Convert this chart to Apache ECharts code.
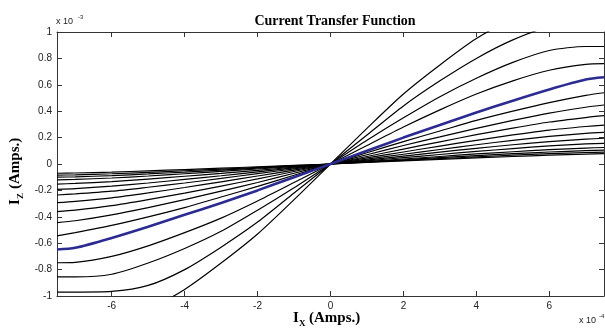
<!DOCTYPE html>
<html><head><meta charset="utf-8">
<script src="https://cdn.jsdelivr.net/npm/echarts@6/dist/echarts.min.js"></script>
<style>html,body{margin:0;padding:0;background:#fff}#c{width:605px;height:329px}</style>
</head><body><div id="c"></div>
<script>
const xs = [-7.5,-7,-6,-5,-4,-3,-2,-1,0,1,2,3,4,5,6,7,7.5];
const c1 = [-1.26,-1.25,-1.2,-1.1,-0.95,-0.75,-0.53,-0.27,0,0.27,0.53,0.75,0.95,1.1,1.2,1.25,1.26];
const c2 = [-0.97,-0.97,-0.965,-0.92,-0.8,-0.63,-0.44,-0.22,0,0.22,0.44,0.63,0.8,0.94,1.04,1.06,1.06];
const c3 = [-0.855,-0.855,-0.835,-0.75,-0.64,-0.51,-0.35,-0.18,0,0.18,0.35,0.51,0.65,0.77,0.86,0.89,0.89];
const c4 = [-0.748,-0.745,-0.7,-0.62,-0.52,-0.41,-0.28,-0.14,0,0.14,0.28,0.41,0.53,0.63,0.71,0.755,0.76];
const blue = [-0.648,-0.635,-0.56,-0.475,-0.385,-0.295,-0.2,-0.1,0,0.1,0.2,0.295,0.39,0.48,0.565,0.64,0.657];
const c6 = [-0.545,-0.52,-0.465,-0.4,-0.33,-0.25,-0.17,-0.085,0,0.085,0.17,0.25,0.33,0.4,0.465,0.52,0.54];
const c7 = [-0.444,-0.43,-0.385,-0.33,-0.27,-0.205,-0.14,-0.07,0,0.07,0.14,0.205,0.27,0.33,0.385,0.43,0.447];
const c8 = [-0.361,-0.35,-0.316,-0.27,-0.22,-0.167,-0.113,-0.057,0,0.057,0.113,0.168,0.222,0.272,0.318,0.352,0.366];
const c9 = [-0.293,-0.283,-0.256,-0.219,-0.178,-0.135,-0.091,-0.046,0,0.046,0.091,0.136,0.179,0.22,0.257,0.284,0.295];
const c10 = [-0.235,-0.227,-0.206,-0.176,-0.144,-0.109,-0.073,-0.037,0,0.037,0.074,0.11,0.146,0.179,0.209,0.232,0.24];
const c11 = [-0.192,-0.186,-0.168,-0.144,-0.117,-0.089,-0.06,-0.03,0,0.03,0.06,0.09,0.119,0.146,0.17,0.188,0.195];
const c12 = [-0.152,-0.147,-0.133,-0.114,-0.093,-0.071,-0.048,-0.024,0,0.024,0.048,0.072,0.095,0.117,0.137,0.152,0.157];
const c13 = [-0.121,-0.117,-0.106,-0.091,-0.074,-0.056,-0.038,-0.019,0,0.019,0.038,0.057,0.076,0.093,0.109,0.121,0.125];
const c14 = [-0.1,-0.097,-0.088,-0.075,-0.061,-0.046,-0.031,-0.016,0,0.016,0.032,0.048,0.063,0.078,0.091,0.101,0.105];
const c15 = [-0.085,-0.082,-0.074,-0.063,-0.051,-0.039,-0.026,-0.013,0,0.014,0.028,0.041,0.054,0.067,0.078,0.087,0.09];
const c16 = [-0.07,-0.068,-0.061,-0.052,-0.042,-0.032,-0.021,-0.011,0,0.012,0.024,0.035,0.046,0.057,0.067,0.075,0.078];
const blackCurves = [c1,c2,c3,c4,c6,c7,c8,c9,c10,c11,c12,c13,c14,c15,c16];
const xTicks = [-6,-4,-2,0,2,4,6];
const yTicks = [-1,-0.8,-0.6,-0.4,-0.2,0,0.2,0.4,0.6,0.8,1];

const pair = arr => xs.map((x,i)=>[x, arr[i]]);
const series = blackCurves.map(a => ({
  type:'line', data: pair(a), symbol:'none', smooth:0.25,
  lineStyle:{color:'#000', width:1.2}, xAxisIndex:0, yAxisIndex:0, z:2
}));
series.push({type:'line', data: pair(blue), symbol:'none', smooth:0.25,
  lineStyle:{color:'#2b2b92', width:2.6}, xAxisIndex:0, yAxisIndex:0, z:3});

const axCol = '#333';
const serif = "'Liberation Serif', 'DejaVu Serif', serif";
const sans = "'Liberation Sans', Arial, sans-serif";
const line = {onZero:false, lineStyle:{color:axCol, width:1}};
const chart = echarts.init(document.getElementById('c'), null, {renderer:'canvas'});
chart.setOption({
  animation:false,
  backgroundColor:'#fff',
  title:{text:'Current Transfer Function', left:330, top:9, textAlign:'center',
    textStyle:{fontFamily:serif, fontWeight:'bold', fontSize:14, color:'#000'}},
  grid:{left:57, right:1, top:32, bottom:33},
  xAxis:[
    {type:'value', min:-7.5, max:7.5, position:'bottom', axisLine:line,
     axisTick:{inside:true, length:5, customValues:xTicks, lineStyle:{color:axCol}},
     axisLabel:{customValues:xTicks, fontSize:10, color:'#222', fontFamily:sans, margin:5,
       formatter:v=>String(Math.round(v))},
     splitLine:{show:false}},
    {type:'value', min:-7.5, max:7.5, position:'top', axisLine:line,
     axisTick:{inside:true, length:5, customValues:xTicks, lineStyle:{color:axCol}},
     axisLabel:{show:false}, splitLine:{show:false}}
  ],
  yAxis:[
    {type:'value', min:-1, max:1, position:'left', axisLine:line,
     axisTick:{inside:true, length:5, customValues:yTicks, lineStyle:{color:axCol}},
     axisLabel:{customValues:yTicks, fontSize:10, color:'#222', fontFamily:sans, margin:5,
       formatter:v=>String(Math.round(v*10)/10)},
     splitLine:{show:false}},
    {type:'value', min:-1, max:1, position:'right', axisLine:line,
     axisTick:{inside:true, length:5, customValues:yTicks, lineStyle:{color:axCol}},
     axisLabel:{show:false}, splitLine:{show:false}}
  ],
  graphic:[
    {type:'text', left:56, top:17, style:{text:'x 10', fontSize:9, fontFamily:sans, fill:'#222'}},
    {type:'text', left:78, top:14, style:{text:'-3', fontSize:6, fontFamily:sans, fill:'#222'}},
    {type:'text', left:579, top:316, style:{text:'x 10', fontSize:9, fontFamily:sans, fill:'#222'}},
    {type:'text', left:599, top:313, style:{text:'-4', fontSize:6, fontFamily:sans, fill:'#222'}},
    {type:'text', x:293, y:311, style:{text:'I', fontSize:15, fontWeight:'bold', fontFamily:serif, fill:'#000'}},
    {type:'text', x:299, y:319, style:{text:'X', fontSize:9, fontWeight:'bold', fontFamily:serif, fill:'#000'}},
    {type:'text', x:309, y:311, style:{text:'(Amps.)', fontSize:15, fontWeight:'bold', fontFamily:serif, fill:'#000'}},
    {type:'group', x:8, y:205, rotation:Math.PI/2, children:[
      {type:'text', x:0, y:0, style:{text:'I', fontSize:15, fontWeight:'bold', fontFamily:serif, fill:'#000'}},
      {type:'text', x:6, y:8, style:{text:'Z', fontSize:9, fontWeight:'bold', fontFamily:serif, fill:'#000'}},
      {type:'text', x:16, y:0, style:{text:'(Amps.)', fontSize:15, fontWeight:'bold', fontFamily:serif, fill:'#000'}}
    ]}
  ],
  series: series
});
</script></body></html>
